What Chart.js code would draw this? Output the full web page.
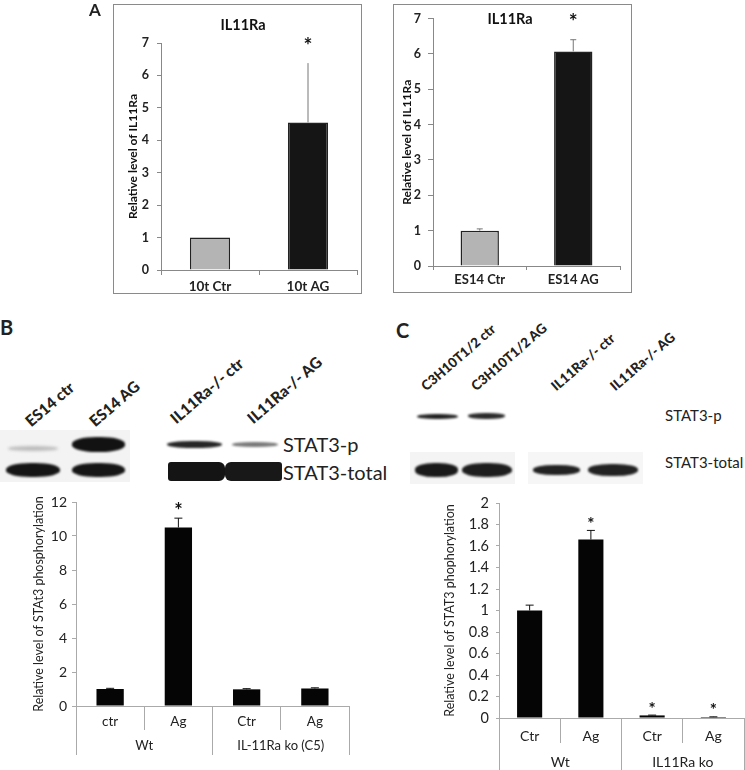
<!DOCTYPE html>
<html>
<head>
<meta charset="utf-8">
<script src="https://cdn.jsdelivr.net/npm/chart.js@4.4.0/dist/chart.umd.min.js"></script>
<style>
  body { margin: 0; background: #fff; width: 745px; height: 770px; position: relative; overflow: hidden;
         font-family: Lato, "Liberation Sans", sans-serif; color: #222; }
  canvas { position: absolute; display: block; }
  .box { position: absolute; border: 1px solid #8a8a8a; box-sizing: border-box; pointer-events: none; }
  .txt { position: absolute; white-space: nowrap; line-height: 1; }
  .lane { position: absolute; white-space: nowrap; line-height: 1; font-weight: 900;
          transform-origin: 0 100%; transform: rotate(-41deg); }
  .band { position: absolute; border-radius: 45%; }
</style>
</head>
<body>
<canvas id="aLeft" width="249" height="290" style="left:113px;top:4px"></canvas>
<div class="box" style="left:113px;top:4px;width:249px;height:290px"></div>
<canvas id="aRight" width="239" height="289" style="left:393px;top:4px"></canvas>
<div class="box" style="left:393px;top:4px;width:239px;height:289px"></div>
<canvas id="bChart" width="380" height="285" style="left:0;top:485px"></canvas>
<canvas id="cChart" width="360" height="285" style="left:385px;top:485px"></canvas>

<div class="txt" style="left:89px;top:1px;font-size:17px;font-weight:bold">A</div>
<div class="txt" style="left:0;top:317px;font-size:20px;font-weight:bold">B</div>
<div class="txt" style="left:396px;top:320px;font-size:20px;font-weight:bold">C</div>

<!-- B blot lane labels -->
<div class="lane" style="left:33px;top:414px;font-size:15.5px">ES14 ctr</div>
<div class="lane" style="left:97px;top:414px;font-size:15.5px">ES14 AG</div>
<div class="lane" style="left:178px;top:411px;font-size:15.5px">IL11Ra-/- ctr</div>
<div class="lane" style="left:255px;top:411px;font-size:15.5px">IL11Ra-/- AG</div>
<!-- B blot -->
<div class="band" style="left:0;top:430px;width:130px;height:52px;background:#f3f3f3;border-radius:0"></div>
<div class="band" style="left:8px;top:446px;width:50px;height:5px;background:#bdbdbd;filter:blur(1.5px)"></div>
<div class="band" style="left:72px;top:437px;width:53px;height:15px;background:#121212;filter:blur(0.8px)"></div>
<div class="band" style="left:6px;top:463px;width:54px;height:14px;background:#161616;filter:blur(0.8px)"></div>
<div class="band" style="left:72px;top:463px;width:53px;height:14px;background:#161616;filter:blur(0.8px)"></div>
<div class="band" style="left:167px;top:441px;width:55px;height:7px;background:#262626;filter:blur(1.2px)"></div>
<div class="band" style="left:232px;top:442px;width:46px;height:5px;background:#7a7a7a;filter:blur(1.2px)"></div>
<div class="band" style="left:168px;top:462px;width:57px;height:19px;background:#141414;border-radius:3px 6px 6px 3px"></div>
<div class="band" style="left:225px;top:462px;width:57px;height:19px;background:#181818;border-radius:6px 3px 3px 6px"></div>
<div class="txt" style="left:283px;top:434px;font-size:20px">STAT3-p</div>
<div class="txt" style="left:283px;top:462px;font-size:20px">STAT3-total</div>

<!-- C blot lane labels -->
<div class="lane" style="left:428px;top:380px;font-size:13.5px">C3H10T1/2 ctr</div>
<div class="lane" style="left:478px;top:380px;font-size:13.5px">C3H10T1/2 AG</div>
<div class="lane" style="left:558px;top:380px;font-size:13.5px">IL11Ra-/- ctr</div>
<div class="lane" style="left:617px;top:380px;font-size:13.5px">IL11Ra-/- AG</div>
<!-- C blot -->
<div class="band" style="left:417px;top:414px;width:41px;height:5px;background:#222;filter:blur(0.8px)"></div>
<div class="band" style="left:468px;top:413px;width:37px;height:6px;background:#2c2c2c;filter:blur(0.8px)"></div>
<div class="band" style="left:410px;top:452px;width:105px;height:32px;background:#f4f4f4;border-radius:0"></div>
<div class="band" style="left:528px;top:452px;width:115px;height:32px;background:#f6f6f6;border-radius:0"></div>
<div class="band" style="left:415px;top:463px;width:43px;height:14px;background:#1a1a1a;filter:blur(1px)"></div>
<div class="band" style="left:462px;top:463px;width:50px;height:14px;background:#1e1e1e;filter:blur(1px)"></div>
<div class="band" style="left:533px;top:465px;width:47px;height:10px;background:#222;filter:blur(1px)"></div>
<div class="band" style="left:588px;top:464px;width:50px;height:12px;background:#222;filter:blur(1px)"></div>
<div class="txt" style="left:665px;top:408px;font-size:15px">STAT3-p</div>
<div class="txt" style="left:665px;top:455px;font-size:15px">STAT3-total</div>

<script>
// Panel A, left (10t cells)
const aLeftLabels = ["10t Ctr", "10t AG"];
const aLeftValues = [1.0, 4.55];
const aLeftErrors = [0, 1.83];
const aLeftStars = [false, true];

// Panel A, right (ES14 cells)
const aRightLabels = ["ES14 Ctr", "ES14 AG"];
const aRightValues = [1.0, 6.07];
const aRightErrors = [0.05, 0.33];
const aRightStars = [false, true];

// Panel B
const bLabels = ["ctr", "Ag", "Ctr", "Ag"];
const bGroups = ["Wt", "IL-11Ra ko (C5)"];
const bValues = [1.0, 10.5, 0.98, 1.03];
const bErrors = [0.04, 0.55, 0.04, 0.04];
const bStars = [false, true, false, false];

// Panel C
const cLabels = ["Ctr", "Ag", "Ctr", "Ag"];
const cGroups = ["Wt", "IL11Ra ko"];
const cValues = [1.0, 1.66, 0.024, 0.009];
const cErrors = [0.05, 0.085, 0.003, 0.002];
const cStars = [false, true, true, true];

const FAMILY = "Lato, 'Liberation Sans', sans-serif";

// error bars, asterisks and in-plot titles
const barExtras = {
  id: "barExtras",
  afterDatasetsDraw(chart) {
    const ds = chart.data.datasets[0];
    const o = chart.options.plugins.barExtras;
    const y = chart.scales.y;
    const ctx = chart.ctx;
    ctx.save();
    chart.getDatasetMeta(0).data.forEach((bar, i) => {
      const e = ds.errors[i] || 0;
      const top = y.getPixelForValue(ds.data[i] + e);
      if (e > 0) {
        ctx.strokeStyle = o.errColor;
        ctx.lineWidth = 1;
        ctx.beginPath();
        ctx.moveTo(bar.x, bar.y);
        ctx.lineTo(bar.x, top);
        if (o.cap) {
          ctx.moveTo(bar.x - o.cap / 2, top);
          ctx.lineTo(bar.x + o.cap / 2, top);
        }
        ctx.stroke();
      }
      if (ds.stars[i]) {
        ctx.fillStyle = "#111";
        ctx.font = o.starFont + " " + FAMILY;
        ctx.textAlign = "center";
        ctx.textBaseline = "middle";
        ctx.fillText("*", bar.x, top - o.starGap);
      }
    });
    if (o.title) {
      ctx.fillStyle = "#111";
      ctx.font = o.titleFont + " " + FAMILY;
      ctx.textAlign = "center";
      ctx.textBaseline = "middle";
      ctx.fillText(o.title, o.titleX, o.titleY);
    }
    ctx.restore();
  }
};

const boldFont = (size) => ({ family: FAMILY, size: size, weight: "bold" });
const plainFont = (size) => ({ family: FAMILY, size: size });
const noHover = { legend: { display: false }, tooltip: { enabled: false } };

// Panel A left
new Chart(document.getElementById("aLeft"), {
  type: "bar",
  data: {
    labels: aLeftLabels,
    datasets: [{
      data: aLeftValues, errors: aLeftErrors, stars: aLeftStars,
      backgroundColor: ["#b4b4b4", "#151515"], borderColor: "#222", borderWidth: 1.5,
      barPercentage: 0.41, categoryPercentage: 1
    }]
  },
  options: {
    responsive: false, animation: false,
    layout: { padding: { top: 39, right: 5, left: 0, bottom: 0 } },
    plugins: Object.assign({}, noHover, {
      barExtras: { errColor: "#777", cap: 0, starGap: 17, starFont: "bold 21px",
                   title: "IL11Ra", titleFont: "bold 14.5px", titleX: 130, titleY: 21 }
    }),
    scales: {
      x: {
        offset: true,
        grid: { drawOnChartArea: false, offset: true, tickLength: 5, color: "#888" },
        border: { color: "#888" },
        ticks: { font: boldFont(13.5), color: "#222", padding: 4, maxRotation: 0 },
        afterFit: (s) => { s.height = 24; }
      },
      y: {
        min: 0, max: 7,
        grid: { drawOnChartArea: false, tickLength: 4, color: "#888" },
        border: { color: "#888" },
        ticks: { stepSize: 1, font: boldFont(12.5), color: "#222", padding: 8 },
        title: { display: true, text: "Relative level of IL11Ra", font: boldFont(12), color: "#111", padding: { top: 13, bottom: 0 } },
        afterFit: (s) => { s.width = 48; }
      }
    }
  },
  plugins: [barExtras]
});

// Panel A right
new Chart(document.getElementById("aRight"), {
  type: "bar",
  data: {
    labels: aRightLabels,
    datasets: [{
      data: aRightValues, errors: aRightErrors, stars: aRightStars,
      backgroundColor: ["#b4b4b4", "#151515"], borderColor: "#222", borderWidth: 1.5,
      barPercentage: 0.41, categoryPercentage: 1
    }]
  },
  options: {
    responsive: false, animation: false,
    layout: { padding: { top: 11, right: 12, left: 0, bottom: 0 } },
    plugins: Object.assign({}, noHover, {
      barExtras: { errColor: "#777", cap: 6, starGap: 17, starFont: "bold 21px",
                   title: "IL11Ra", titleFont: "bold 14.5px", titleX: 117, titleY: 15 }
    }),
    scales: {
      x: {
        offset: true,
        grid: { drawOnChartArea: false, offset: true, tickLength: 4, color: "#888" },
        border: { color: "#888" },
        ticks: { font: boldFont(13), color: "#222", padding: 2, maxRotation: 0 },
        afterFit: (s) => { s.height = 27; }
      },
      y: {
        min: 0, max: 7,
        grid: { drawOnChartArea: false, tickLength: 5, color: "#888" },
        border: { color: "#888" },
        ticks: { stepSize: 1, font: boldFont(12.5), color: "#222", padding: 7 },
        title: { display: true, text: "Relative level of IL11Ra", font: boldFont(12), color: "#111", padding: { top: 6.5, bottom: 0 } },
        afterFit: (s) => { s.width = 40; }
      }
    }
  },
  plugins: [barExtras]
});

// Panel B
new Chart(document.getElementById("bChart"), {
  type: "bar",
  data: {
    labels: bLabels,
    datasets: [{
      data: bValues, errors: bErrors, stars: bStars,
      backgroundColor: "#050505", barPercentage: 0.4, categoryPercentage: 1
    }]
  },
  options: {
    responsive: false, animation: false,
    layout: { padding: { top: 17, right: 31, left: 0, bottom: 15 } },
    plugins: Object.assign({}, noHover, {
      barExtras: { errColor: "#111", cap: 8, starGap: 7, starFont: "bold 20px" }
    }),
    scales: {
      x: {
        offset: true,
        grid: { drawOnChartArea: false, offset: true, tickLength: 24, color: "#aaa" },
        border: { color: "#aaa" },
        ticks: { font: plainFont(13.5), color: "#222", padding: -16, maxRotation: 0, autoSkip: false },
        afterFit: (s) => { s.height = 24; }
      },
      x2: {
        type: "category", labels: bGroups, position: "bottom", weight: 1, offset: true,
        grid: { drawOnChartArea: false, offset: true, tickLength: 25, color: "#aaa" },
        border: { display: false },
        ticks: { font: plainFont(13), color: "#222", padding: -17, maxRotation: 0, autoSkip: false },
        afterFit: (s) => { s.height = 25; }
      },
      y: {
        min: 0, max: 12,
        grid: { drawOnChartArea: false, tickLength: 4, color: "#aaa" },
        border: { color: "#aaa" },
        ticks: { stepSize: 2, font: plainFont(14), color: "#222", padding: 5 },
        title: { display: true, text: "Relative level of STAt3 phosphorylation", font: plainFont(12.5), color: "#222", padding: { top: 31.5, bottom: 0 } },
        afterFit: (s) => { s.width = 76; }
      }
    }
  },
  plugins: [barExtras]
});

// Panel C
new Chart(document.getElementById("cChart"), {
  type: "bar",
  data: {
    labels: cLabels,
    datasets: [{
      data: cValues, errors: cErrors, stars: cStars,
      backgroundColor: "#050505", barPercentage: 0.41, categoryPercentage: 1
    }]
  },
  options: {
    responsive: false, animation: false,
    layout: { padding: { top: 18, right: 1, left: 0, bottom: 0 } },
    plugins: Object.assign({}, noHover, {
      barExtras: { errColor: "#111", cap: 8, starGap: 6, starFont: "bold 17px" }
    }),
    scales: {
      x: {
        offset: true,
        grid: { drawOnChartArea: false, offset: true, tickLength: 25, color: "#aaa" },
        border: { color: "#aaa" },
        ticks: { font: plainFont(14), color: "#222", padding: -15, maxRotation: 0, autoSkip: false },
        afterFit: (s) => { s.height = 25; }
      },
      x2: {
        type: "category", labels: cGroups, position: "bottom", weight: 1, offset: true,
        grid: { drawOnChartArea: false, offset: true, tickLength: 27, color: "#aaa" },
        border: { display: false },
        ticks: { font: plainFont(14), color: "#222", padding: -16, maxRotation: 0, autoSkip: false },
        afterFit: (s) => { s.height = 27; }
      },
      y: {
        min: 0, max: 2,
        grid: { drawOnChartArea: false, tickLength: 3, color: "#aaa" },
        border: { color: "#aaa" },
        ticks: { stepSize: 0.2, font: plainFont(14.5), color: "#222", padding: 7,
                 callback: (v) => String(Number(v.toFixed(1))) },
        title: { display: true, text: "Relative level of STAT3 phophorylation", font: plainFont(12.5), color: "#222", padding: { top: 57.5, bottom: 0 } },
        afterFit: (s) => { s.width = 114; }
      }
    }
  },
  plugins: [barExtras]
});
</script>
</body>
</html>
